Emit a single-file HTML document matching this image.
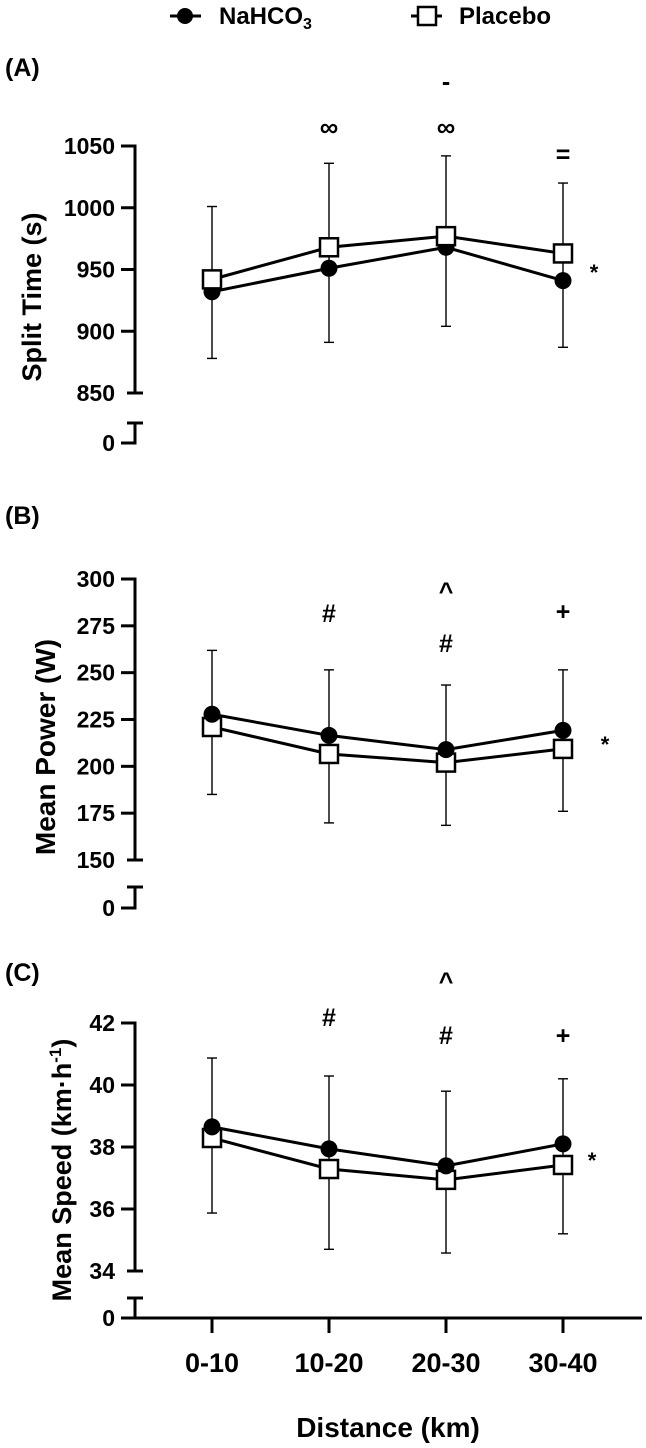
<!DOCTYPE html>
<html><head><meta charset="utf-8">
<style>
html,body{margin:0;padding:0;background:#fff;}
svg{display:block;font-family:"Liberation Sans",Arial,sans-serif;font-weight:bold;}
</style></head>
<body>
<svg id="chart" width="646" height="1448" viewBox="0 0 646 1448" xmlns="http://www.w3.org/2000/svg">
  <g>
    <g>
      <line x1="170" y1="16" x2="201" y2="16" stroke="#000" stroke-width="3"/>
      <circle cx="185" cy="16" r="8" fill="#000"/>
      <text x="219" y="24" font-size="24">NaHCO<tspan font-size="16" dy="5">3</tspan></text>
    </g>
    <g>
      <line x1="411" y1="16" x2="442" y2="16" stroke="#000" stroke-width="3"/>
      <rect x="418" y="7" width="18" height="18" fill="#fff" stroke="#000" stroke-width="2.5"/>
      <text x="459" y="24" font-size="24">Placebo</text>
    </g>
  </g>
</svg>
<script>
const categories = ["0-10","10-20","20-30","30-40"];
// Panel A: split time (s)
const splitNa = [932, 951, 968, 941];
const splitPl = [942, 968, 977, 963];
const splitErrHi = [1001, 1036, 1042, 1020];
const splitErrLo = [878, 891, 904, 887];
const splitTicks = [850, 900, 950, 1000, 1050];
// Panel B: mean power (W)
const powerNa = [227.8, 216.5, 208.9, 219.2];
const powerPl = [221, 206.6, 202, 209.3];
const powerErrHi = [261.9, 251.5, 243.4, 251.5];
const powerErrLo = [185, 169.8, 168.5, 176];
const powerTicks = [150, 175, 200, 225, 250, 275, 300];
// Panel C: mean speed (km/h)
const speedNa = [38.65, 37.94, 37.39, 38.1];
const speedPl = [38.29, 37.29, 36.94, 37.42];
const speedErrHi = [40.87, 40.29, 39.8, 40.2];
const speedErrLo = [35.87, 34.7, 34.58, 35.2];
const speedTicks = [34, 36, 38, 40, 42];

const NS = "http://www.w3.org/2000/svg";
const svg = document.getElementById("chart");
function mk(tag, attrs, parent, text) {
  const e = document.createElementNS(NS, tag);
  for (const k in attrs) e.setAttribute(k, attrs[k]);
  if (text !== undefined) e.textContent = text;
  (parent || svg).appendChild(e);
  return e;
}
const AX = 135;
function xPos(i) { return 212 + 117 * i; }

function panel(cfg) {
  const g = mk("g", {});
  
  
  const lo = cfg.ticks[0], hi = cfg.ticks[cfg.ticks.length - 1];
  const y = v => cfg.yTop + (hi - v) * (cfg.yBot - cfg.yTop) / (hi - lo);
  const pl = mk("text", {x: 5, y: cfg.labelY, "font-size": 25}, g, cfg.letter);
  
  
  const ax = mk("g", {}, g);
  
  
  mk("line", {x1: AX, y1: cfg.yTop - 1.5, x2: AX, y2: cfg.yBot, stroke: "#000", "stroke-width": 3}, ax);
  cfg.ticks.forEach((t, i) => {
    const yy = y(t);
    const last = i === 0;
    mk("line", {x1: last ? 127 : 121, y1: yy, x2: last ? 143 : AX, y2: yy, stroke: "#000", "stroke-width": 3}, ax);
    const tl = mk("text", {x: 115, y: yy + 8, "text-anchor": "end", "font-size": 23}, ax, String(t));
    
    
  });
  mk("line", {x1: 127, y1: cfg.brk, x2: 143, y2: cfg.brk, stroke: "#000", "stroke-width": 3}, ax);
  mk("line", {x1: AX, y1: cfg.brk, x2: AX, y2: cfg.zero + 1.5, stroke: "#000", "stroke-width": 3}, ax);
  mk("line", {x1: 121, y1: cfg.zero, x2: AX, y2: cfg.zero, stroke: "#000", "stroke-width": 3}, ax);
  const z = mk("text", {x: 115, y: cfg.zero + 8, "text-anchor": "end", "font-size": 23}, ax, "0");
  
  
  const yt = mk("text", {x: cfg.titleX, y: cfg.titleY, "text-anchor": "middle", "font-size": cfg.titleSize,
    transform: `rotate(-90 ${cfg.titleX} ${cfg.titleY})`}, g);
  
  
  yt.innerHTML = cfg.title;
  categories.forEach((c, i) => {
    const x = xPos(i);
    const eb = mk("g", {stroke: "#000", "stroke-width": 1.4}, g);
    
    
    mk("line", {x1: x, y1: y(cfg.hi[i]), x2: x, y2: y(cfg.lo[i])}, eb);
    mk("line", {x1: x - 5, y1: y(cfg.hi[i]), x2: x + 5, y2: y(cfg.hi[i])}, eb);
    mk("line", {x1: x - 5, y1: y(cfg.lo[i]), x2: x + 5, y2: y(cfg.lo[i])}, eb);
  });
  const ptsNa = cfg.na.map((v, i) => xPos(i) + "," + y(v)).join(" ");
  const ptsPl = cfg.pl.map((v, i) => xPos(i) + "," + y(v)).join(" ");
  const l1 = mk("polyline", {points: ptsNa, fill: "none", stroke: "#000", "stroke-width": 3}, g);
  
  
  const l2 = mk("polyline", {points: ptsPl, fill: "none", stroke: "#000", "stroke-width": 3}, g);
  
  
  const drawPl = () => cfg.pl.forEach((v, i) => {
    const r = mk("rect", {x: xPos(i) - 9, y: y(v) - 9, width: 18, height: 18, fill: "#fff", stroke: "#000", "stroke-width": 2.5}, g);
    
    
  });
  const drawNa = () => cfg.na.forEach((v, i) => {
    const c = mk("circle", {cx: xPos(i), cy: y(v), r: 8.5, fill: "#000"}, g);
    
    
  });
  if (cfg.naTop) { drawPl(); drawNa(); } else { drawNa(); drawPl(); }
  cfg.ann.forEach(a => {
    const t = mk("text", {x: a[0], y: a[1], "text-anchor": "middle", "font-size": a[3] || 25}, g, a[2]);
    
    
  });
}

panel({name: "panel-a-split-time", letter: "(A)", labelY: 76, ticks: splitTicks, yTop: 146, yBot: 393,
  brk: 423, zero: 443, titleX: 41, titleY: 297, titleSize: 27, title: "Split Time (s)",
  na: splitNa, pl: splitPl, hi: splitErrHi, lo: splitErrLo, naTop: false,
  ann: [[xPos(1), 136, "∞", 26], [xPos(2), 136, "∞", 26], [xPos(2), 90, "-", 25], [xPos(3), 163, "=", 25], [594, 280, "*", 22]]});

panel({name: "panel-b-mean-power", letter: "(B)", labelY: 524, ticks: powerTicks, yTop: 579, yBot: 860,
  brk: 887, zero: 908, titleX: 55, titleY: 747, titleSize: 28, title: "Mean Power (W)",
  na: powerNa, pl: powerPl, hi: powerErrHi, lo: powerErrLo, naTop: true,
  ann: [[xPos(1), 622, "#"], [xPos(2), 600, "^"], [xPos(2), 652, "#"], [xPos(3), 620, "+"], [605, 752, "*", 22]]});

panel({name: "panel-c-mean-speed", letter: "(C)", labelY: 981, ticks: speedTicks, yTop: 1023, yBot: 1271,
  brk: 1298, zero: 1318, titleX: 71, titleY: 1170, titleSize: 27,
  title: 'Mean Speed (km·h<tspan font-size="17" dy="-10">-1</tspan><tspan dy="10">)</tspan>',
  na: speedNa, pl: speedPl, hi: speedErrHi, lo: speedErrLo, naTop: true,
  ann: [[xPos(1), 1026, "#"], [xPos(2), 990, "^"], [xPos(2), 1044, "#"], [xPos(3), 1044, "+"], [592, 1168, "*", 22]]});

const xa = mk("g", {});


mk("line", {x1: AX, y1: 1318, x2: 642, y2: 1318, stroke: "#000", "stroke-width": 3}, xa);
categories.forEach((c, i) => {
  mk("line", {x1: xPos(i), y1: 1318, x2: xPos(i), y2: 1333, stroke: "#000", "stroke-width": 3}, xa);
  const t = mk("text", {x: xPos(i), y: 1372, "text-anchor": "middle", "font-size": 27}, xa, c);
  
  
});
const xt = mk("text", {x: 388, y: 1437, "text-anchor": "middle", "font-size": 28}, xa, "Distance (km)");


</script>
</body></html>
